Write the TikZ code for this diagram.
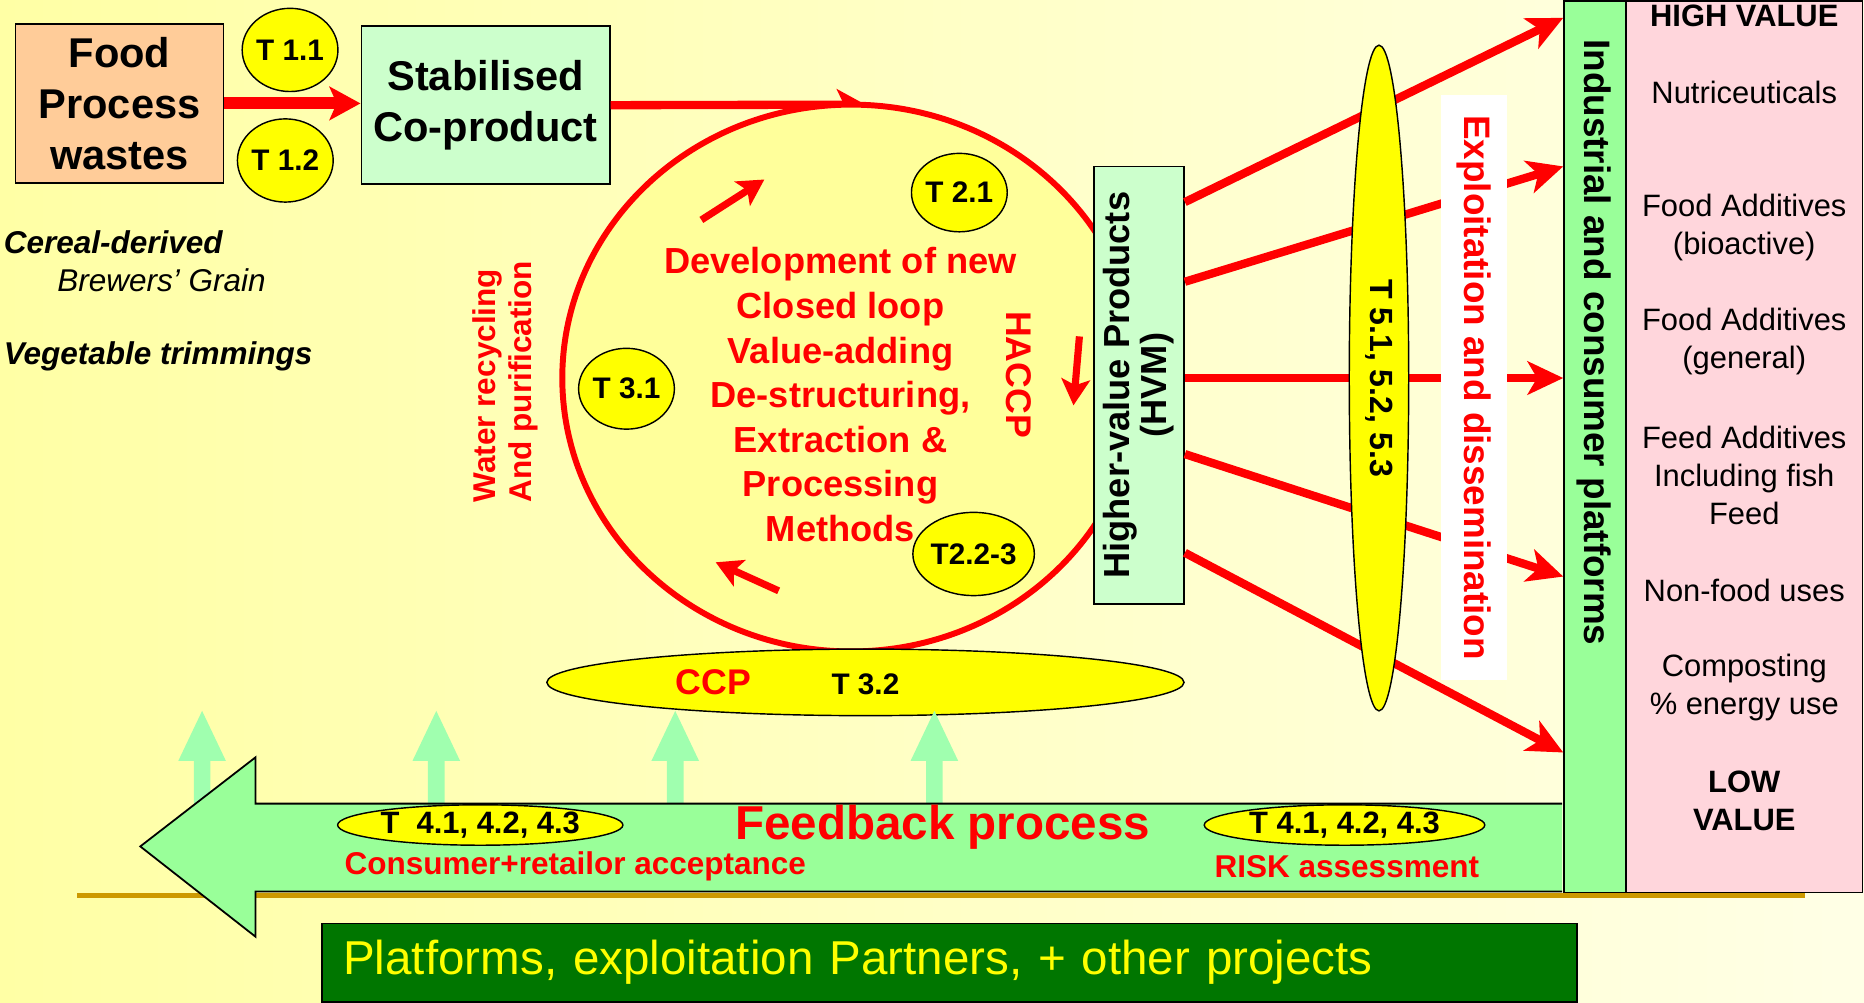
\documentclass[tikz,border=0pt]{standalone}
\usepackage{fontspec}
\setmainfont{Liberation Sans}
\usetikzlibrary{arrows.meta, shapes.geometric, positioning, calc}

\definecolor{bgpale}{RGB}{255,255,230}
\definecolor{bgyel}{RGB}{255,255,165}
\definecolor{loopyel}{RGB}{255,255,155}
\definecolor{tyel}{RGB}{255,255,0}
\definecolor{peach}{RGB}{255,204,153}
\definecolor{mint}{RGB}{204,255,204}
\definecolor{fbgreen}{RGB}{153,255,153}
\definecolor{upgreen}{RGB}{160,255,175}
\definecolor{pinkcol}{RGB}{255,214,220}
\definecolor{darkgreen}{RGB}{0,118,0}
\definecolor{gold}{RGB}{204,153,0}

\tikzset{
  every node/.style={inner sep=0pt},
  tbub/.style={ellipse, draw=black, fill=tyel, line width=1.2pt, font=\bfseries\fontsize{25}{28}\selectfont},
  boxtxt/.style={draw=black, line width=1.5pt, align=center, font=\bfseries\fontsize{35}{43}\selectfont},
  fanarrow/.style={draw=red, line width=7pt, -{Stealth[length=30pt, width=28pt, inset=8pt]}},
  looparrow/.style={draw=red, line width=6pt, -{Stealth[length=22pt, width=24pt, inset=5pt]}},
  pinktxt/.style={align=center, font=\fontsize{26}{32}\selectfont},
  pinkbold/.style={align=center, font=\bfseries\fontsize{26}{32}\selectfont},
  redbold/.style={text=red, font=\bfseries\fontsize{#1}{#1}\selectfont},
}

\begin{document}
\begin{tikzpicture}[x=1pt, y=-1pt]
\useasboundingbox (0,0) rectangle (1568,843);
\shade[left color=bgyel, right color=bgpale] (0,0) rectangle (1568,843);
\draw[gold, line width=4pt] (65,753) -- (1518,753);

% inputs
\node[boxtxt, fill=peach, minimum width=175pt, minimum height=134pt] (food) at (100.5,87) {Food\\Process\\wastes};
\node[boxtxt, fill=mint, minimum width=209pt, minimum height=133pt] (stab) at (408.5,88.5) {Stabilised\\Co-product};
\node[tbub, minimum width=78pt, minimum height=70pt] (t11) at (244,42) {T 1.1};
\node[tbub, minimum width=76pt, minimum height=70pt] (t12) at (240,135) {T 1.2};
\draw[draw=red, line width=10pt, -{Stealth[length=26pt, width=28pt, inset=6pt]}] (food.east) -- (food.east -| stab.west);

\node[anchor=west, font=\bfseries\itshape\fontsize{26.5}{26.5}\selectfont] (cereal) at (3,204) {Cereal-derived};
\node[anchor=west, font=\itshape\fontsize{26.5}{26.5}\selectfont] (brewer) at (48,236) {Brewers’ Grain};
\node[anchor=west, font=\bfseries\itshape\fontsize{26.5}{26.5}\selectfont] (veg) at (3,300) {Vegetable trimmings};

% closed loop
\coordinate (looptop) at (728,88);
\draw[draw=red, line width=7pt, -{Stealth[length=24pt, width=26pt, inset=6pt]}] (stab.east) -- (looptop);
\node[ellipse, draw=red, line width=5pt, fill=loopyel, minimum width=486pt, minimum height=460pt] (loop) at (716,318) {};
\node[align=center, text=red, font=\bfseries\fontsize{30.5}{37.5}\selectfont] (method) at (707,332)
  {Development of new\\Closed loop\\Value-adding\\De-structuring,\\Extraction \&\\Processing\\Methods};
\node[rotate=-90, redbold=30] (haccp) at (857,315) {HACCP};
\node[rotate=90, align=left, text=red, font=\bfseries\fontsize{26.5}{30}\selectfont] (water) at (425,321) {Water recycling\\And purification};
\node[tbub, minimum width=80pt, minimum height=66pt] (t21) at (807,162) {T 2.1};
\node[tbub, minimum width=80pt, minimum height=68pt] (t31) at (527,327) {T 3.1};
\node[tbub, minimum width=80pt, minimum height=70pt] (t223) at (819,466) {T2.2-3};
\coordinate (la1) at (590,185); \coordinate (lb1) at (643,151);
\coordinate (la2) at (908,283); \coordinate (lb2) at (903,341);
\coordinate (la3) at (655,497); \coordinate (lb3) at (602,473);
\foreach \i in {1,2,3}
  \draw[looparrow] (la\i) -- (lb\i);

\node[tbub, minimum width=536pt, minimum height=56pt] (ccp) at (728,574) {};
\node[redbold=30] (ccptxt) at (600,574) {CCP};
\node[font=\bfseries\fontsize{25}{25}\selectfont] (t32) at (728,576) {T 3.2};

% products and outlets
\node[draw, fill=mint, line width=1.5pt, rotate=90, minimum width=368pt, minimum height=76pt, align=center,
  font=\bfseries\fontsize{30.5}{31}\selectfont] (hvm) at (958,324) {Higher-value Products\\(HVM)};
\node[draw, fill=fbgreen, line width=1.5pt, minimum width=52pt, minimum height=750pt, anchor=north west] (bar) at (1315,0) {};
\node[draw, fill=pinkcol, line width=1.5pt, minimum width=199pt, minimum height=750pt, anchor=north west] (values) at (1367,0) {};
\node[rotate=-90, font=\bfseries\fontsize{31}{31}\selectfont] (bartxt) at (1341,288) {Industrial and consumer platforms};

\foreach \ys/\ye in {170/15, 237/140, 318/318, 382/485, 465/633}
  \draw[fanarrow] (hvm.south |- 0,\ys) -- (bar.west |- 0,\ye);
\node[ellipse, draw, fill=tyel, line width=1.2pt, rotate=-90, minimum width=560pt, minimum height=50pt,
  font=\bfseries\fontsize{27}{27}\selectfont] (tfive) at (1160,318) {T 5.1, 5.2, 5.3};
\node[fill=white, rotate=-90, minimum width=492pt, minimum height=55pt, redbold=31] (exploit) at (1240,326) {Exploitation and dissemination};

\node[pinkbold] at (values.north |- 0,13) {HIGH VALUE};
\node[pinktxt] at (values.north |- 0,78) {Nutriceuticals};
\node[pinktxt] at (values.north |- 0,191) {Food Additives\\(bioactive)};
\node[pinktxt] at (values.north |- 0,287) {Food Additives\\(general)};
\node[pinktxt] at (values.north |- 0,400) {Feed Additives\\Including fish\\Feed};
\node[pinktxt] at (values.north |- 0,497) {Non-food uses};
\node[pinktxt] at (values.north |- 0,578) {Composting\\\% energy use};
\node[pinkbold] at (values.north |- 0,674) {LOW\\VALUE};

% feedback
\foreach \ux in {170,367,568,786}
  \fill[upgreen] (\ux-7,680) -- (\ux-7,640) -- (\ux-20,640) -- (\ux,598) -- (\ux+20,640) -- (\ux+7,640) -- (\ux+7,680) -- cycle;
\draw[fill=fbgreen, line width=1.5pt] (1314,676) -- (215,676) -- (215,637) -- (118,712) -- (215,788) -- (215,750) -- (1314,750);
\node[tbub, minimum width=240pt, minimum height=34pt, font=\bfseries\fontsize{26}{26}\selectfont] (t4l) at (404,694) {T\ \ 4.1, 4.2, 4.3};
\node[tbub, minimum width=236pt, minimum height=34pt, font=\bfseries\fontsize{26}{26}\selectfont] (t4r) at (1131,694) {T 4.1, 4.2, 4.3};
\node[redbold=26.5] (accept) at (484,729) {Consumer+retailor acceptance};
\node[redbold=26.5] (risk) at (1133,729) {RISK assessment};
\node[redbold=40] (feedback) at (793,696) {Feedback process};

\node[draw, fill=darkgreen, line width=1.5pt, anchor=north west, text width=1020pt, inner xsep=18pt, minimum height=66pt,
  align=left, text=tyel, font=\fontsize{40}{44}\selectfont] (partners) at (270,776) {Platforms, exploitation Partners, + other projects};
\end{tikzpicture}
\end{document}
